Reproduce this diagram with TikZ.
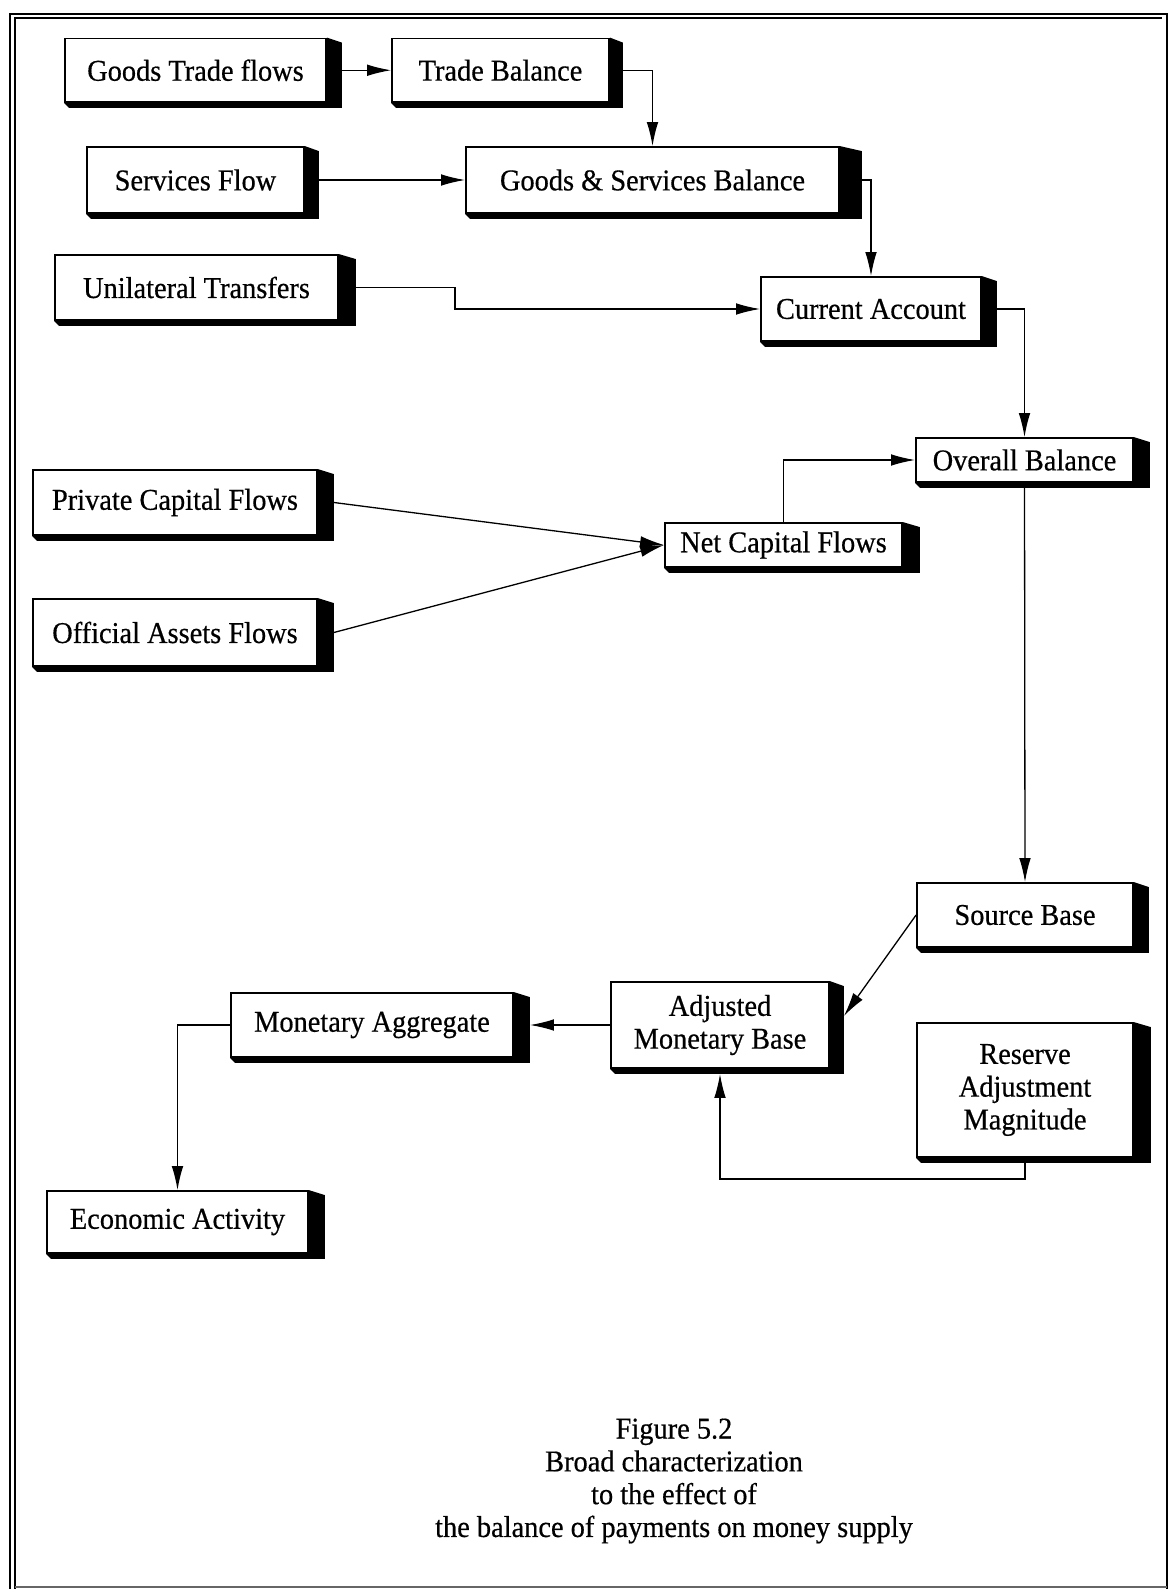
\documentclass[tikz,border=0pt]{standalone}
\usepackage{fontspec}
\setmainfont{Liberation Serif}[FakeBold=0.5, FakeStretch=0.94]
\usetikzlibrary{arrows.meta}

% one unit = one pixel of a 1169 x 1589 page, y grows downwards
\tikzset{
  x=0.5pt, y=-0.5pt,
  txt/.style={font=\fontsize{15.1pt}{16.4pt}\selectfont},
  box/.style={draw, line width=0.9pt, fill=white, inner sep=0pt, align=center, txt},
  arr/.style={line width=0.65pt, -{Latex[length=12pt,width=5.8pt]}},
  frameline/.style={line width=1.1pt}
}

% \bx{name}{x1}{y1}{x2}{y2}{shadow depth}{text}
\newcommand\bx[7]{%
  \pgfmathsetmacro\bxcx{(#2+#4)/2}%
  \pgfmathsetmacro\bxcy{(#3+#5)/2}%
  \pgfmathsetmacro\bxw{(#4-#2)*0.5}%
  \pgfmathsetmacro\bxh{(#5-#3)*0.5}%
  \node[box, minimum width=\bxw pt, minimum height=\bxh pt] (#1) at (\bxcx,\bxcy) {#7};
  \fill (#1.north east) -- ([shift={(#6,5)}]#1.north east)
        -- ([shift={(#6,5)}]#1.south east) -- ([shift={(5,5)}]#1.south west)
        -- (#1.south west) -- (#1.south east) -- cycle;
}

\begin{document}
\begin{tikzpicture}
\useasboundingbox (0,0) rectangle (1169,1589);
\fill[white] (0,0) rectangle (1169,1589);

% page frame
\draw[frameline] (10,1589) -- (10,14) -- (1167,14) -- (1167,1589);
\draw[line width=0.8pt] (15,1589) -- (15,18) -- (1162,18);
\draw[line width=0.6pt, black!60] (15,1587) -- (1167,1587);

% boxes
\bx{gtf}{65}{38.5}{326}{102}{15}{Goods Trade flows}
\bx{tb}{392}{38.5}{609}{102}{13}{Trade Balance}
\bx{sf}{87}{147}{304}{213}{14}{Services Flow}
\bx{gs}{466}{147}{839}{213}{22}{Goods \& Services Balance}
\bx{ut}{55}{255}{338}{320}{17}{Unilateral Transfers}
\bx{ca}{761}{277}{981}{341}{15}{Current Account}
\bx{ob}{916}{438}{1133}{482}{16}{Overall Balance}
\bx{pcf}{33}{470}{317}{535}{16}{Private Capital Flows}
\bx{ncf}{665}{523}{902}{567}{17}{Net Capital Flows}
\bx{oaf}{33}{599}{317}{666}{16}{Official Assets Flows}
\bx{sb}{917}{883}{1133}{947}{15}{Source Base}
\bx{amb}{611}{982}{829}{1068}{14}{Adjusted\\Monetary Base}
\bx{ma}{231}{993}{513}{1057}{16}{Monetary Aggregate}
\bx{ram}{917}{1023}{1133}{1157}{17}{Reserve\\Adjustment\\Magnitude}
\bx{ea}{47}{1191}{308}{1253}{16}{Economic Activity}

% connectors
\coordinate (utbend) at (455,0);
\draw[arr] ([shift={(15,0)}]gtf.east) -- (tb.west);
\draw[arr] ([shift={(13,0)}]tb.east) -| (gs.north);
\draw[arr] ([shift={(14,0)}]sf.east) -- (gs.west);
\draw[arr] ([shift={(22,0)}]gs.east) -| (ca.north);
\draw[arr] ([shift={(17,0)}]ut.east) -| (utbend |- ca.west) -- (ca.west);
\draw[arr] ([shift={(15,0)}]ca.east) -| (ob.north);
\draw[arr] (ncf.north) |- (ob.west);
\draw[arr] ([shift={(16,0)}]pcf.east) -- (ncf.west);
\draw[arr] ([shift={(16,0)}]oaf.east) -- (ncf.west);
\draw[arr] (ob.south) -- (sb.north);
\draw[arr] (sb.west) -- ([shift={(14,-9)}]amb.east);
\draw[arr] (amb.west) -- ([shift={(16,0)}]ma.east);
\draw[arr] (ma.west) -| (ea.north);
\draw[arr] ([shift={(0,5)}]ram.south) -- ++(0,16) -| ([shift={(0,5)}]amb.south);

% caption
\node[align=center, txt] (cap) at (674,1481)
  {Figure 5.2\\Broad characterization\\to the effect of\\the balance of payments on money supply};
\end{tikzpicture}
\end{document}
